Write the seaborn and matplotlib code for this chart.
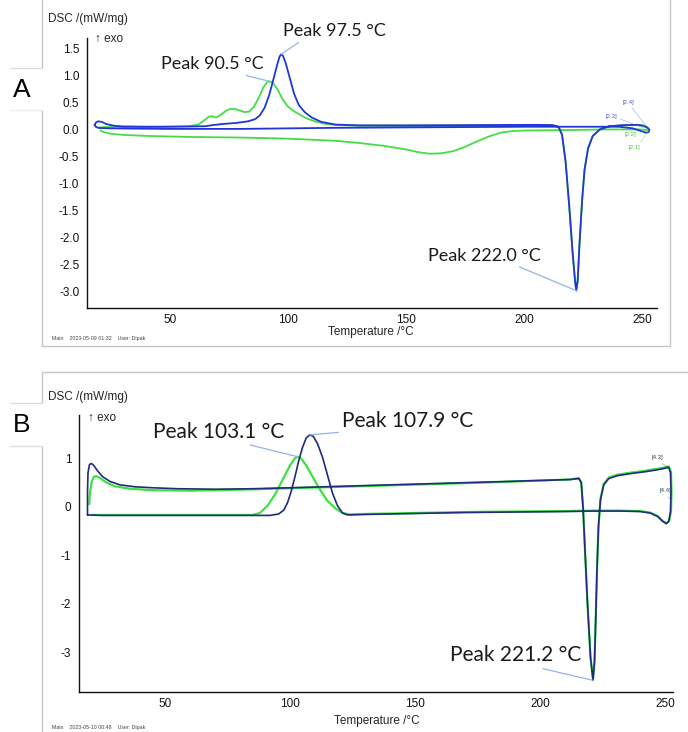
import pandas as pd
import matplotlib.pyplot as plt
from matplotlib.lines import Line2D
from matplotlib.ticker import MultipleLocator, FormatStrFormatter
import seaborn as sns

# ---- panel A (2023-05-09): temperature /°C, DSC /(mW/mg)
a_blue = [(18.0, 0.08), (18.6, 0.13), (19.5, 0.15), (21.0, 0.14), (23.0, 0.10), (26.0, 0.07),
          (30.0, 0.055), (40.0, 0.05), (50.0, 0.05), (60.0, 0.055), (65.0, 0.06), (68.0, 0.08),
          (72.0, 0.10), (78.0, 0.12), (83.0, 0.15), (86.0, 0.19), (88.0, 0.26), (90.0, 0.40),
          (92.0, 0.64), (94.0, 0.97), (95.5, 1.22), (96.3, 1.34), (97.0, 1.39), (97.8, 1.36),
          (99.0, 1.22), (100.5, 0.98), (102.5, 0.66), (104.5, 0.45), (107.0, 0.32), (110.0, 0.22),
          (114.0, 0.14), (120.0, 0.09), (130.0, 0.075), (150.0, 0.075), (180.0, 0.08), (205.0, 0.085),
          (212.0, 0.08), (214.5, 0.05), (216.0, -0.1), (217.5, -0.6), (219.0, -1.4), (220.5, -2.3),
          (221.5, -2.8), (222.0, -2.98), (222.6, -2.8), (223.4, -2.1), (224.5, -1.3), (225.5, -0.75),
          (227.0, -0.35), (229.0, -0.12), (232.0, 0.0), (236.0, 0.06), (242.0, 0.08), (248.0, 0.085),
          (250.5, 0.07), (252.3, 0.03), (253.0, -0.01), (252.6, -0.05), (251.5, -0.06), (249.5, -0.03),
          (246.0, 0.02), (240.0, 0.05), (200.0, 0.05), (160.0, 0.04), (120.0, 0.03), (80.0, 0.01),
          (50.0, 0.01), (35.0, 0.015), (25.0, 0.02), (20.5, 0.025), (18.8, 0.04), (18.0, 0.08)]

a_green = [(19.5, 0.03), (21.0, 0.04), (24.0, 0.045), (30.0, 0.05), (45.0, 0.05), (58.0, 0.06),
           (62.0, 0.09), (64.5, 0.17), (66.5, 0.24), (68.0, 0.24), (69.5, 0.22), (71.5, 0.27),
           (73.5, 0.34), (75.5, 0.38), (77.5, 0.38), (79.5, 0.35), (81.5, 0.32), (83.5, 0.33),
           (85.5, 0.42), (87.5, 0.58), (89.5, 0.78), (91.0, 0.87), (92.0, 0.89), (93.5, 0.86),
           (95.5, 0.74), (97.5, 0.57), (99.5, 0.44), (102.0, 0.35), (105.0, 0.27), (108.0, 0.2),
           (112.0, 0.14), (116.0, 0.1), (121.0, 0.08), (130.0, 0.07), (150.0, 0.07), (180.0, 0.075),
           (205.0, 0.08), (212.0, 0.075), (214.5, 0.045), (216.0, -0.1), (217.5, -0.6), (219.0, -1.4),
           (220.5, -2.3), (221.5, -2.8), (222.0, -2.96), (222.6, -2.8), (223.4, -2.1), (224.5, -1.3),
           (225.5, -0.75), (227.0, -0.35), (229.0, -0.12), (232.0, 0.0), (236.0, 0.06), (242.0, 0.075),
           (248.0, 0.08), (250.5, 0.065), (252.2, 0.03), (252.6, 0.0), (251.5, -0.01), (249.0, 0.0),
           (235.0, 0.0), (220.0, -0.01), (200.0, -0.02), (195.0, -0.03), (190.0, -0.06), (185.0, -0.13),
           (180.0, -0.22), (175.0, -0.32), (170.0, -0.4), (165.0, -0.44), (160.0, -0.45), (155.0, -0.42),
           (150.0, -0.37), (140.0, -0.3), (130.0, -0.25), (120.0, -0.21), (100.0, -0.17), (80.0, -0.15),
           (60.0, -0.14), (40.0, -0.12), (30.0, -0.1), (25.0, -0.08), (22.0, -0.05), (20.5, -0.02)]

a_peak_labels = ["Peak 97.5 °C", "Peak 90.5 °C", "Peak 222.0 °C"]
a_footer = "Main    2023-05-09 01:32    User: Dipak"
a_tags = ["[2.4]", "[2.3]", "[2.2]", "[2.1]"]

# ---- panel B (2023-05-10)
b_blue = [(19.0, -0.17), (19.0, 0.3), (19.2, 0.7), (19.8, 0.87), (20.6, 0.89), (21.5, 0.85),
          (23.0, 0.74), (25.0, 0.62), (28.0, 0.52), (32.0, 0.45), (38.0, 0.41), (45.0, 0.39),
          (55.0, 0.37), (70.0, 0.36), (85.0, 0.37), (100.0, 0.39), (120.0, 0.42), (140.0, 0.45),
          (160.0, 0.48), (180.0, 0.51), (200.0, 0.54), (212.0, 0.56), (215.5, 0.58), (216.5, 0.5),
          (217.2, 0.0), (218.0, -0.9), (219.0, -2.0), (220.2, -3.1), (221.2, -3.58), (221.8, -3.2),
          (222.3, -2.3), (222.8, -1.3), (223.4, -0.4), (224.2, 0.15), (225.5, 0.45), (227.5, 0.58),
          (231.0, 0.64), (236.0, 0.68), (242.0, 0.72), (248.0, 0.77), (251.5, 0.81), (252.2, 0.7),
          (252.4, 0.3), (252.2, -0.1), (251.5, -0.3), (250.5, -0.35), (249.0, -0.3), (247.0, -0.2),
          (244.0, -0.13), (240.0, -0.1), (232.0, -0.09), (222.0, -0.09), (210.0, -0.1), (190.0, -0.11),
          (170.0, -0.12), (150.0, -0.14), (130.0, -0.16), (123.0, -0.17), (121.0, -0.13), (119.0, 0.02),
          (117.0, 0.28), (115.0, 0.65), (113.0, 1.02), (111.0, 1.3), (109.3, 1.45), (107.9, 1.48),
          (106.5, 1.42), (105.0, 1.22), (103.5, 0.95), (102.0, 0.62), (100.5, 0.32), (99.0, 0.08),
          (97.5, -0.07), (95.5, -0.15), (92.0, -0.18), (80.0, -0.18), (60.0, -0.18), (40.0, -0.18),
          (25.0, -0.18), (19.0, -0.17)]

b_green = [(19.7, 0.05), (20.0, 0.3), (20.7, 0.52), (21.6, 0.62), (22.6, 0.63), (24.0, 0.59),
           (26.5, 0.5), (30.0, 0.42), (36.0, 0.37), (45.0, 0.34), (60.0, 0.33), (80.0, 0.35),
           (100.0, 0.38), (120.0, 0.41), (140.0, 0.44), (160.0, 0.47), (180.0, 0.5), (200.0, 0.54),
           (212.0, 0.56), (215.5, 0.59), (216.5, 0.5), (217.2, 0.0), (218.0, -0.9), (219.0, -2.0),
           (220.2, -3.1), (221.2, -3.55), (221.8, -3.2), (222.3, -2.3), (222.8, -1.3), (223.4, -0.4),
           (224.2, 0.16), (225.5, 0.47), (227.5, 0.6), (231.0, 0.66), (236.0, 0.7), (242.0, 0.74),
           (248.0, 0.79), (251.5, 0.83), (252.4, 0.72), (252.6, 0.3), (252.4, -0.1), (251.7, -0.29),
           (250.6, -0.34), (249.0, -0.29), (247.0, -0.19), (244.0, -0.12), (240.0, -0.09), (232.0, -0.08),
           (222.0, -0.08), (210.0, -0.09), (190.0, -0.1), (170.0, -0.11), (150.0, -0.13), (130.0, -0.15),
           (124.0, -0.16), (121.0, -0.13), (118.0, -0.03), (115.0, 0.12), (112.0, 0.35), (109.0, 0.62),
           (106.5, 0.85), (104.5, 0.99), (103.1, 1.03), (102.0, 1.0), (100.0, 0.85), (97.0, 0.55),
           (94.0, 0.25), (91.0, 0.02), (88.0, -0.13), (85.0, -0.17), (70.0, -0.17), (50.0, -0.17),
           (30.0, -0.17), (21.0, -0.17)]

b_peak_labels = ["Peak 107.9 °C", "Peak 103.1 °C", "Peak 221.2 °C"]
b_footer = "Main    2023-05-10 00:48    User: Dipak"
b_tags = ["[4.3]", "[4.4]"]

W, H = 688, 732
NOTE_LINE = "#93b5e6"


def fx(x):
    return x / W


def fy(y):
    return 1 - y / H


def draw(ax, pts, color, lw):
    df = pd.DataFrame(pts, columns=["T", "dsc"])
    sns.lineplot(data=df, x="T", y="dsc", sort=False, estimator=None,
                 color=color, lw=lw, ax=ax)
    return df


def peak(df, lo, hi, kind="max"):
    sub = df[(df["T"] > lo) & (df["T"] < hi)]
    i = sub["dsc"].idxmax() if kind == "max" else sub["dsc"].idxmin()
    return df.loc[i, "T"], df.loc[i, "dsc"]


def peak_note(ax, xy, text, dx, dy, rel, size):
    ax.annotate(text, xy=xy, xytext=(dx, dy), textcoords="offset pixels",
                ha="left", va="center", fontsize=size, family=["Lato", "DejaVu Sans"],
                color="#1b1b1b", annotation_clip=False,
                arrowprops=dict(arrowstyle="-", color=NOTE_LINE, lw=0.9,
                                shrinkA=0, shrinkB=0, relpos=rel))


def tag_note(ax, xy, text, dx, dy, color, rel):
    ax.annotate(text, xy=xy, xytext=(dx, dy), textcoords="offset pixels",
                ha="center", va="center", fontsize=4.3, color=color,
                annotation_clip=False,
                arrowprops=dict(arrowstyle="-", color=color, lw=0.5, alpha=0.45,
                                shrinkA=0, shrinkB=0, relpos=rel))


def style_axes(ax, xlim, ylim, ymaj, ymin, yfmt):
    ax.set_xlim(*xlim)
    ax.set_ylim(*ylim)
    ax.set_xlabel("")
    ax.set_ylabel("")
    ax.xaxis.set_major_locator(MultipleLocator(50))
    ax.xaxis.set_minor_locator(MultipleLocator(10))
    ax.yaxis.set_major_locator(MultipleLocator(ymaj))
    ax.yaxis.set_minor_locator(MultipleLocator(ymin))
    ax.yaxis.set_major_formatter(FormatStrFormatter(yfmt))
    for s in ["top", "right"]:
        ax.spines[s].set_visible(False)
    for s in ["left", "bottom"]:
        ax.spines[s].set_linewidth(1.0)
        ax.spines[s].set_color("#111111")
    ax.tick_params(which="major", direction="out", length=3.5, width=0.8,
                   labelsize=8.5, pad=2, colors="#111111")
    ax.tick_params(axis="x", which="major", pad=0.5)
    ax.tick_params(which="minor", direction="out", length=2, width=0.6, colors="#111111")
    ax.set_facecolor("white")


def frame_line(fig, xs, ys, color="#c4c4c4", lw=1.0):
    fig.add_artist(Line2D([fx(x) for x in xs], [fy(y) for y in ys],
                          color=color, lw=lw, transform=fig.transFigure))


def main():
    sns.set_style("white")
    plt.rcParams["font.family"] = ["Liberation Sans", "DejaVu Sans"]
    plt.rcParams["axes.unicode_minus"] = False

    fig = plt.figure(figsize=(W / 100, H / 100), dpi=100)

    # screenshot frames and panel letter boxes
    frame_line(fig, [41.5, 41.5], [0, 68])
    frame_line(fig, [41.5, 41.5, 670, 670], [110, 346, 346, 0])
    frame_line(fig, [10, 41.5], [68, 68], color="#dddddd")
    frame_line(fig, [10, 41.5], [110, 110], color="#eeeeee")
    frame_line(fig, [41.5, 41.5, 688], [403, 372, 372])
    frame_line(fig, [41.5, 41.5], [446, 732])
    frame_line(fig, [10, 41.5], [403, 403], color="#dddddd")
    frame_line(fig, [10, 41.5], [446, 446], color="#dddddd")
    fig.text(fx(22), fy(90), "A", fontsize=19, ha="center", va="center", color="black")
    fig.text(fx(22), fy(425), "B", fontsize=19, ha="center", va="center", color="black")

    # ---------------- panel A
    axa = fig.add_axes([fx(87), fy(308), 570 / W, 270 / H])
    dga = draw(axa, a_green, "#45dd45", 1.3)
    dba = draw(axa, a_blue, "#2236d8", 1.3)
    style_axes(axa, (14.8, 256.2), (-3.30, 1.69), 0.5, 0.1, "%.1f")

    peak_note(axa, peak(dba, 80, 120), a_peak_labels[0], 2, 23, (0.2, 0.0), 13)
    peak_note(axa, peak(dga, 80, 120), a_peak_labels[1], -108, 17, (0.7, 0.0), 13)
    peak_note(axa, peak(dba, 200, 240, "min"), a_peak_labels[2], -148, 35, (0.74, 0.0), 13)

    tag_note(axa, (252.1, 0.04), a_tags[0], -19, 25, "#4a58d6", (0.6, 0.0))
    tag_note(axa, (251.2, 0.02), a_tags[1], -34, 12, "#4a58d6", (1.0, 0.2))
    tag_note(axa, (252.3, 0.0), a_tags[2], -17, -5, "#3ccc3c", (1.0, 0.6))
    tag_note(axa, (252.8, -0.01), a_tags[3], -14, -18, "#3ccc3c", (0.8, 1.0))

    fig.text(fx(48), fy(19), "DSC /(mW/mg)", fontsize=8.5, va="center", ha="left")
    fig.text(fx(95), fy(39), "↑ exo", fontsize=8.5, va="center", ha="left")
    fig.text(fx(371), fy(332), "Temperature /°C", fontsize=8.5, va="center", ha="center")
    fig.text(fx(52), fy(338.5), a_footer, fontsize=3.8, va="center", ha="left", color="#444444")

    # ---------------- panel B
    axb = fig.add_axes([fx(79), fy(692), 594 / W, 277 / H])
    dgb = draw(axb, b_green, "#3ee23e", 1.6)
    dbb = draw(axb, b_blue, "#1f2b7c", 1.2)
    style_axes(axb, (15.6, 253.2), (-3.82, 1.89), 1, 0.2, "%d")

    peak_note(axb, peak(dbb, 90, 130), b_peak_labels[0], 32, 14, (0.1, 0.0), 15)
    peak_note(axb, peak(dgb, 90, 130), b_peak_labels[1], -145, 25, (0.64, 0.0), 15)
    peak_note(axb, peak(dbb, 200, 240, "min"), b_peak_labels[2], -143, 25, (0.6, 0.0), 15)

    tag_note(axb, (251.2, 0.82), b_tags[0], -11, 9, "#2f4a5c", (0.5, 0.0))
    tag_note(axb, (252.4, 0.14), b_tags[1], -6, 9, "#2f4a5c", (0.5, 0.0))

    fig.text(fx(48), fy(397), "DSC /(mW/mg)", fontsize=8.5, va="center", ha="left")
    fig.text(fx(88), fy(418), "↑ exo", fontsize=8.5, va="center", ha="left")
    fig.text(fx(377), fy(721), "Temperature /°C", fontsize=8.5, va="center", ha="center")
    fig.text(fx(52), fy(727.5), b_footer, fontsize=3.8, va="center", ha="left", color="#444444")

    fig.savefig("out.png", dpi=100, facecolor="white")


if __name__ == "__main__": main()
